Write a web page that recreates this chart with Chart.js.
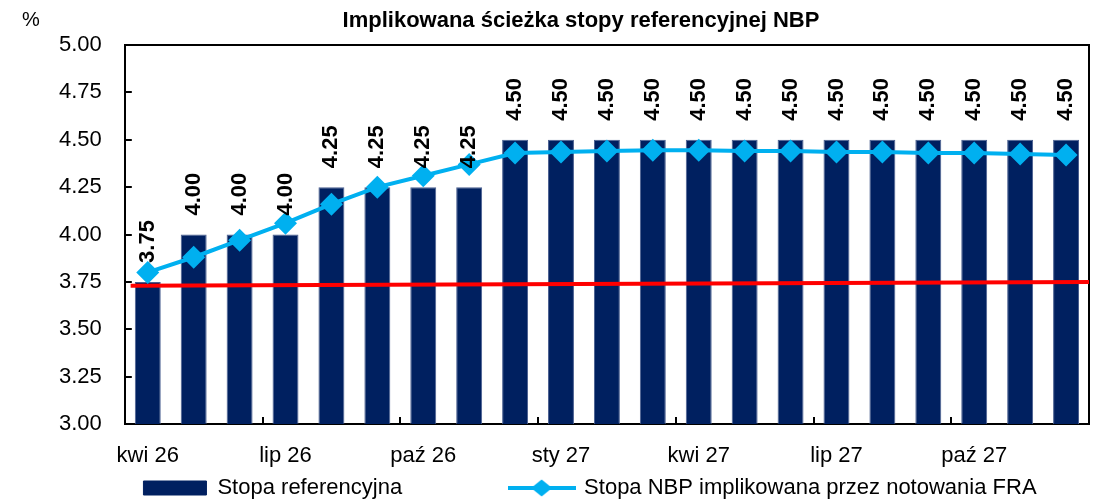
<!DOCTYPE html>
<html>
<head>
<meta charset="utf-8">
<script src="https://cdn.jsdelivr.net/npm/chart.js@4.4.1/dist/chart.umd.min.js"></script>
<style>
html,body{margin:0;padding:0;background:#ffffff;}
canvas{display:block;}
</style>
</head>
<body>
<canvas id="c" width="1107" height="502"></canvas>
<script>
// ---- data ----
const chartTitle = 'Implikowana ścieżka stopy referencyjnej NBP';
const unitLabel = '%';
const categories = ['kwi 26','maj 26','cze 26','lip 26','sie 26','wrz 26','paź 26','lis 26','gru 26',
  'sty 27','lut 27','mar 27','kwi 27','maj 27','cze 27','lip 27','sie 27','wrz 27','paź 27','lis 27','gru 27'];
const seriesNames = ['Stopa referencyjna', 'Stopa NBP implikowana przez notowania FRA'];
const referenceRate = [3.75, 4.00, 4.00, 4.00, 4.25, 4.25, 4.25, 4.25,
  4.50, 4.50, 4.50, 4.50, 4.50, 4.50, 4.50, 4.50, 4.50, 4.50, 4.50, 4.50, 4.50];
const fraImpliedRate = [3.80, 3.88, 3.97, 4.06, 4.16, 4.25, 4.31, 4.37,
  4.43, 4.435, 4.44, 4.445, 4.445, 4.44, 4.44, 4.435, 4.435, 4.43, 4.43, 4.425, 4.42];
const redLineX = [0.006, 1];
const redLineY = [3.73, 3.75];
const yMin = 3.00, yMax = 5.00, yStep = 0.25;
const labelEvery = 3;

// ---- styles ----
const NAVY = '#002060', CYAN = '#00B0F0', RED = '#FF0000';
const FONT = '"Liberation Sans", Arial, sans-serif';
Chart.defaults.font.family = FONT;
Chart.defaults.font.size = 22;
Chart.defaults.color = '#000';

function legendLineImage() {
  const c = document.createElement('canvas');
  c.width = 68; c.height = 22;
  const g = c.getContext('2d');
  g.strokeStyle = CYAN; g.lineWidth = 4;
  g.beginPath(); g.moveTo(0, 11); g.lineTo(68, 11); g.stroke();
  g.fillStyle = CYAN;
  g.beginPath(); g.moveTo(23.5, 11); g.lineTo(34, 2.5); g.lineTo(44.5, 11); g.lineTo(34, 19.5); g.closePath(); g.fill();
  return c;
}
const lineImg = legendLineImage();

const barLabels = {
  id: 'barLabels',
  afterDatasetsDraw(chart) {
    const meta = chart.getDatasetMeta(0);
    const ctx = chart.ctx;
    ctx.save();
    ctx.font = 'bold 22px ' + FONT;
    ctx.fillStyle = '#000';
    ctx.textAlign = 'left';
    ctx.textBaseline = 'middle';
    meta.data.forEach((bar, i) => {
      ctx.save();
      ctx.translate(bar.x, bar.y - 19);
      ctx.rotate(-Math.PI / 2);
      ctx.fillText(referenceRate[i].toFixed(2), 0, 0);
      ctx.restore();
    });
    ctx.restore();
  }
};

const extras = {
  id: 'extras',
  afterLayout(chart) {
    if (chart.titleBlock) { chart.titleBlock.left += 22; chart.titleBlock.right += 22; }
    if (chart.legend) {
      chart.legend.left += 31; chart.legend.right += 31;
      chart.legend.top = 460; chart.legend.bottom = 502;
    }
  },
  beforeDatasetsDraw(chart) {
    // top and right frame of the plot area
    const a = chart.chartArea, ctx = chart.ctx;
    ctx.save();
    ctx.strokeStyle = '#000'; ctx.lineWidth = 2;
    ctx.beginPath();
    ctx.moveTo(a.left, a.top); ctx.lineTo(a.right, a.top); ctx.lineTo(a.right, a.bottom);
    ctx.stroke();
    ctx.restore();
  },
  afterDraw(chart) {
    const ctx = chart.ctx;
    ctx.save();
    ctx.font = '20px ' + FONT;
    ctx.fillStyle = '#000';
    ctx.textAlign = 'center';
    ctx.textBaseline = 'alphabetic';
    ctx.fillText(unitLabel, 31, 26);
    ctx.restore();
  }
};

new Chart(document.getElementById('c'), {
  type: 'bar',
  data: {
    labels: categories,
    datasets: [
      {
        type: 'bar', label: seriesNames[0], data: referenceRate,
        backgroundColor: NAVY, borderColor: '#4a5f90', borderWidth: 1,
        barPercentage: 0.565, categoryPercentage: 1, grouped: false, order: 2,
        xAxisID: 'x', yAxisID: 'y'
      },
      {
        type: 'line', label: 'trend', data: redLineX.map((x, i) => ({x: x, y: redLineY[i]})),
        borderColor: RED, borderWidth: 4, pointRadius: 0, tension: 0, order: 1,
        xAxisID: 'xr', yAxisID: 'y'
      },
      {
        type: 'line', label: seriesNames[1], data: fraImpliedRate,
        borderColor: CYAN, borderWidth: 4, tension: 0,
        pointStyle: 'rectRot', pointRadius: 11.5, pointBackgroundColor: CYAN,
        pointBorderColor: CYAN, pointBorderWidth: 0, order: 0,
        xAxisID: 'x', yAxisID: 'y'
      }
    ]
  },
  options: {
    responsive: false,
    animation: false,
    events: [],
    layout: { padding: { left: 29, right: 18, top: 0, bottom: 0 } },
    plugins: {
      title: {
        display: true, text: chartTitle, color: '#000',
        font: { size: 22, weight: 'bold' },
        padding: { top: 8, bottom: 10.6 }
      },
      legend: {
        position: 'bottom',
        maxHeight: 6.6,
        labels: {
          usePointStyle: true, pointStyleWidth: 63, boxHeight: 14,
          padding: 17, color: '#000', font: { size: 22 },
          generateLabels: () => [
            { text: seriesNames[0], fillStyle: NAVY, strokeStyle: NAVY, lineWidth: 1, pointStyle: 'rect', fontColor: '#000', hidden: false, datasetIndex: 0 },
            { text: '', fillStyle: 'rgba(0,0,0,0)', strokeStyle: 'rgba(0,0,0,0)', lineWidth: 0, pointStyle: 'rect', fontColor: '#000', hidden: false },
            { text: seriesNames[1], fillStyle: CYAN, strokeStyle: CYAN, lineWidth: 0, pointStyle: lineImg, fontColor: '#000', hidden: false, datasetIndex: 2 }
          ]
        }
      },
      tooltip: { enabled: false }
    },
    scales: {
      x: {
        type: 'category', position: 'bottom', offset: true,
        grid: {
          offset: true, drawOnChartArea: false, drawTicks: true, tickLength: -7, lineWidth: 2,
          color: '#000',
          tickColor: (ctx) => (ctx.index > 0 && ctx.index % labelEvery === 0) ? '#000' : 'rgba(0,0,0,0)'
        },
        border: { display: true, color: '#000', width: 2 },
        ticks: {
          autoSkip: false, maxRotation: 0, minRotation: 0, padding: 26, color: '#000',
          font: { size: 22 },
          callback: (v, i) => (i % labelEvery === 0 ? categories[i] : '')
        }
      },
      xr: {
        type: 'linear', position: 'top', min: 0, max: 1, display: false,
        offset: false, grid: { offset: false }
      },
      y: {
        type: 'linear', position: 'left', min: yMin, max: yMax,
        ticks: { stepSize: yStep, padding: 30, color: '#000', font: { size: 22 }, callback: (v) => Number(v).toFixed(2) },
        grid: { drawOnChartArea: false, drawTicks: true, tickLength: -7, lineWidth: 2, color: '#000' },
        border: { display: true, color: '#000', width: 2 }
      }
    }
  },
  plugins: [barLabels, extras]
});
</script>
</body>
</html>
